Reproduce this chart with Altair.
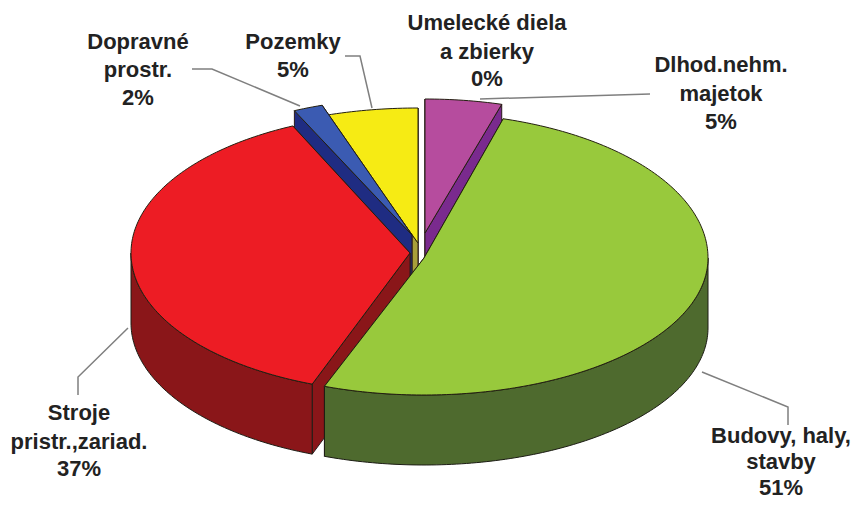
import math
import altair as alt

# --- data -----------------------------------------------------------------
categories = ["Dlhod.nehm. majetok", "Budovy, haly, stavby", "Stroje pristr.,zariad.",
              "Dopravné prostr.", "Pozemky", "Umelecké diela a zbierky"]
shares = [4.5, 51.2, 37.4, 1.7, 5.2, 0.0]
top_colors = ["#B64C9E", "#98C93C", "#ED1C24", "#3B5BB2", "#F6EB14", "#F6EB14"]
side_colors = ["#7A2A8E", "#4E6A2E", "#8A1619", "#1F2C82", "#A89F3A", "#A89F3A"]

label_lines = [
    ["Dlhod.nehm.", "majetok", "5%"],
    ["Budovy, haly,", "stavby", "51%"],
    ["Stroje", "pristr.,zariad.", "37%"],
    ["Dopravné", "prostr.", "2%"],
    ["Pozemky", "5%"],
    ["Umelecké diela", "a zbierky", "0%"],
]

# --- layout (reference pixels): exploded centre, radii, extrusion -----------
slice_geom = [
    (425, 233, 275, 134, 134),
    (424, 258, 284, 145, 137),
    (410, 253, 279, 140, 140),
    (412, 235, 280, 137, 137),
    (418, 243, 285, 135, 135),
    (418, 243, 285, 135, 135),
]
depth = 70
label_anchor = [(721, [65, 94, 122]), (781, [436, 462, 488]), (79, [413, 442, 469]),
                (138, [42, 70, 98]), (293, [42, 70]), (487, [23, 52, 79])]
leaders = [
    [(650, 94), (480, 99)],
    [(702, 372), (788, 407), (788, 425)],
    [(128, 328), (78, 377), (78, 395)],
    [(192, 69), (212, 69), (300, 106)],
    [(345, 56), (360, 56), (372, 108)],
]
paint_order = [4, 0, 3, 2, 1]


def pt(g, deg, dz=0.0):
    cx, cy, rx, ryt, ryb = g
    t = math.radians(deg)
    c = math.cos(t)
    return [cx + rx * math.sin(t), cy - (ryt if c >= 0 else ryb) * c + dz]


def arc(g, a, b, dz=0.0):
    n = max(2, int(abs(b - a)) + 1)
    return [pt(g, a + (b - a) * i / (n - 1), dz) for i in range(n)]


def poly(coords, fill, stroke):
    ring = coords + [coords[0]]
    return {"type": "Feature",
            "geometry": {"type": "Polygon", "coordinates": [ring]},
            "properties": {"fill": fill, "stroke": stroke}}


# cumulative clockwise angles from 12 o'clock
total = sum(shares)
starts, ends, acc = [], [], 0.0
for s in shares:
    starts.append(acc * 360 / total)
    acc += s
    ends.append(acc * 360 / total)

features = []
for i in paint_order:
    g, a, b = slice_geom[i], starts[i], ends[i]
    side, top = side_colors[i], top_colors[i]
    centre = [g[0], g[1]]
    centre_low = [g[0], g[1] + depth]
    # radial walls, the one nearest the viewer painted last
    for ang in sorted((a, b), key=lambda v: -abs(v - 180)):
        p = pt(g, ang)
        features.append(poly([centre, p, [p[0], p[1] + depth], centre_low], side, "#2a1a1a"))
    # outer wall, front half only
    fa, fb = max(a, 90), min(b, 270)
    if fb > fa:
        features.append(poly(arc(g, fa, fb) + arc(g, fb, fa, depth), side, "#1c1c14"))
    # top face
    features.append(poly([centre] + arc(g, a, b), top, "#231f10"))

lines = [{"type": "Feature",
          "geometry": {"type": "LineString", "coordinates": [list(p) for p in ln]},
          "properties": {}} for ln in leaders]

texts = []
for rows, (x, ys) in zip(label_lines, label_anchor):
    for t, y in zip(rows, ys):
        texts.append({"t": t, "x": x, "y": y})

proj = dict(type="identity", scale=1, translate=[-8, -8])

leader_layer = alt.Chart(alt.Data(values=lines)).mark_geoshape(
    filled=False, stroke="#7f7f7f", strokeWidth=1.5
).project(**proj)

pie_layer = alt.Chart(alt.Data(values=features)).mark_geoshape(
    strokeWidth=1, strokeJoin="round"
).encode(
    fill=alt.Fill("properties.fill:N", scale=None),
    stroke=alt.Stroke("properties.stroke:N", scale=None),
).project(**proj)

text_layer = alt.Chart(alt.Data(values=texts)).mark_text(
    font="Liberation Sans", fontWeight="bold", fontSize=22, color="#222222",
    align="center", baseline="middle"
).encode(
    longitude="x:Q", latitude="y:Q", text="t:N"
).project(**proj)

chart = alt.layer(leader_layer, pie_layer, text_layer).properties(
    width=846, height=492, padding=0, background="white",
    autosize=alt.AutoSizeParams(type="none")
).configure_view(stroke=None)

chart.save("out.html", embed_options={"renderer": "svg", "actions": False})
